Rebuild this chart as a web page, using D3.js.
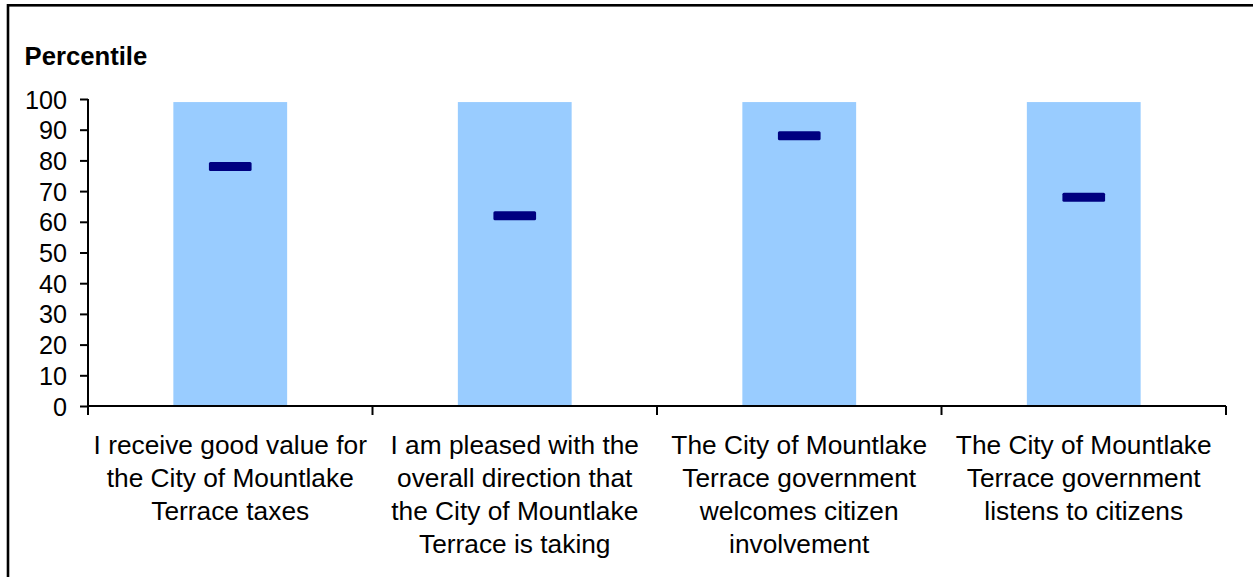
<!DOCTYPE html>
<html>
<head>
<meta charset="utf-8">
<script src="https://cdn.jsdelivr.net/npm/d3@7"></script>
<style>
  body { margin: 0; background: #fff; }
  svg { display: block; font-family: 'Liberation Sans', Arial, sans-serif; }
</style>
</head>
<body>
<svg></svg>
<script>

let categories = [
  ['I receive good value for', 'the City of Mountlake', 'Terrace taxes'],
  ['I am pleased with the', 'overall direction that', 'the City of Mountlake', 'Terrace is taking'],
  ['The City of Mountlake', 'Terrace government', 'welcomes citizen', 'involvement'],
  ['The City of Mountlake', 'Terrace government', 'listens to citizens']
]
let rangeTop = [99, 99, 99, 99]
let percentile = [78, 62, 88, 68]
let yTicks = [0, 10, 20, 30, 40, 50, 60, 70, 80, 90, 100]

let width = 1253,
    height = 577,
    plotLeft = 88,
    plotRight = 1226,
    plotTop = 99,
    plotBottom = 406

let svg = d3.select('svg').attr('width', width).attr('height', height)

// outer frame, right and bottom edges fall off the picture
svg.append('rect')
  .attr('x', 8).attr('y', 5.3)
  .attr('width', width + 20).attr('height', height + 20)
  .attr('fill', 'none')
  .attr('stroke', '#000')
  .attr('stroke-width', 2.6)

let keys = categories.map((d, i) => i)

let x = d3.scaleBand().domain(keys).range([plotLeft, plotRight]).padding(0)
let y = d3.scaleLinear().domain([0, 100]).range([plotBottom, plotTop])

let barW = x.bandwidth() * 0.4
let markW = x.bandwidth() * 0.15

svg.append('g')
  .selectAll('rect')
  .data(rangeTop)
  .enter().append('rect')
  .attr('x', (d, i) => x(i) + x.bandwidth() / 2 - barW / 2)
  .attr('y', d => y(d))
  .attr('width', barW)
  .attr('height', d => y(0) - y(d))
  .attr('fill', '#99ccff')

svg.append('g')
  .selectAll('rect')
  .data(percentile)
  .enter().append('rect')
  .attr('x', (d, i) => x(i) + x.bandwidth() / 2 - markW / 2)
  .attr('y', d => y(d) - 4.5)
  .attr('width', markW)
  .attr('height', 9)
  .attr('rx', 1.5)
  .attr('fill', '#000080')

// y axis
let yAxis = svg.append('g')
  .attr('transform', 'translate(' + plotLeft + ',0)')
  .call(d3.axisLeft(y).tickValues(yTicks).tickSize(8).tickPadding(13))
yAxis.select('.domain').attr('stroke-width', 2).attr('d', 'M0,' + y(100) + 'V' + y(0))
yAxis.selectAll('.tick line').attr('stroke-width', 2)
yAxis.selectAll('.tick text')
  .attr('font-size', 25.2)
  .attr('fill', '#000')
  .attr('dy', '0.36em')

// x axis
let xAxis = svg.append('g')
  .attr('transform', 'translate(0,' + plotBottom + ')')
  .call(d3.axisBottom(x).tickSize(0).tickFormat(''))
xAxis.select('.domain').attr('stroke-width', 2).attr('d', 'M' + plotLeft + ',0H' + plotRight)

let bounds = keys.map(i => x(i)).concat([plotRight])
xAxis.selectAll('.sep')
  .data(bounds)
  .enter().append('line')
  .attr('class', 'sep')
  .attr('x1', d => d).attr('x2', d => d)
  .attr('y1', 0).attr('y2', 9)
  .attr('stroke', '#000')
  .attr('stroke-width', 2)

let labels = svg.append('g')
  .selectAll('text')
  .data(categories)
  .enter().append('text')
  .attr('text-anchor', 'middle')
  .attr('font-size', 26.3)
  .attr('fill', '#000')

labels.selectAll('tspan')
  .data((d, i) => d.map(line => ({ line: line, i: i })))
  .enter().append('tspan')
  .attr('x', d => x(d.i) + x.bandwidth() / 2)
  .attr('y', (d, j) => 453.5 + j * 33.3)
  .text(d => d.line)

svg.append('text')
  .attr('x', 24.5)
  .attr('y', 65)
  .attr('font-size', 25.7)
  .attr('font-weight', 'bold')
  .text('Percentile')

</script>
</body>
</html>
